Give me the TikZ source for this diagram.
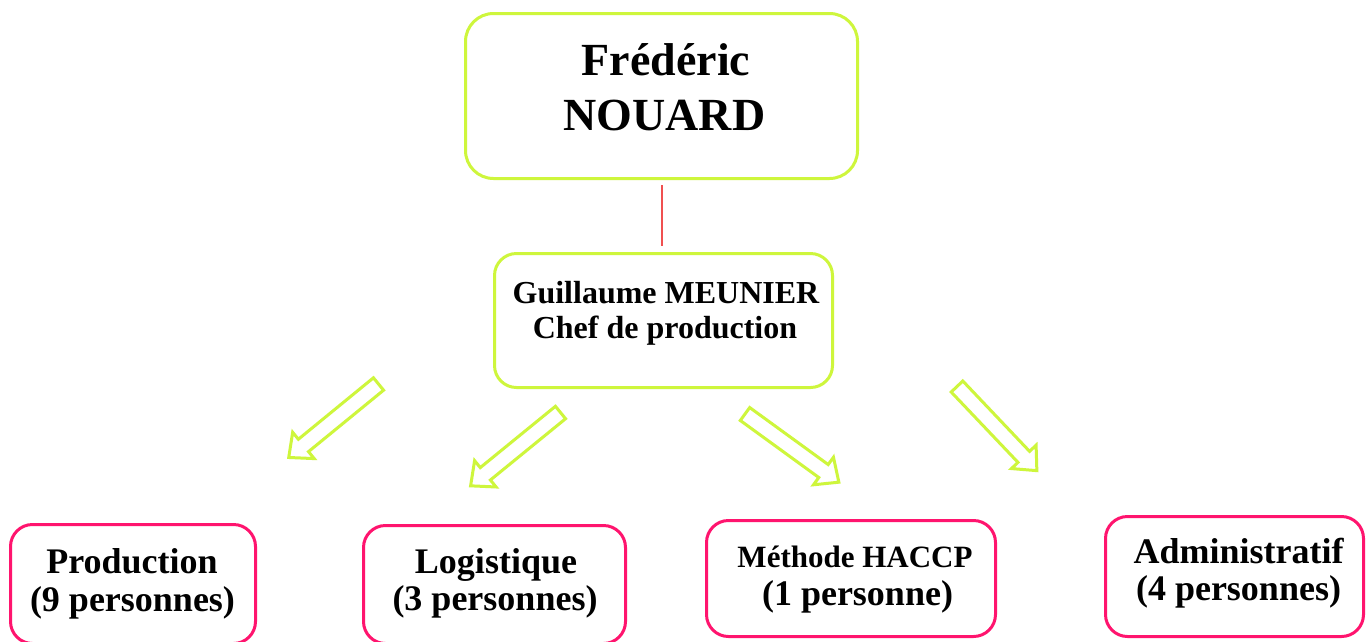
\documentclass[tikz,border=0pt]{standalone}
\usepackage{fontspec}
\setmainfont{Liberation Serif}
\definecolor{limeg}{RGB}{206,246,60}
\definecolor{pinkb}{RGB}{255,20,110}
\definecolor{redl}{RGB}{240,80,80}
\begin{document}
\begin{tikzpicture}[x=1pt,y=-1pt,
  limebox/.style={draw=limeg, line width=3pt, fill=white, inner sep=0pt},
  pinkbox/.style={draw=pinkb, line width=3pt, fill=white, inner sep=0pt, rounded corners=22pt},
  txt/.style={inner sep=0pt, anchor=base, font=\bfseries\fontsize{#1}{#1}\selectfont},
  redline/.style={draw=redl, line width=2pt},
  arrowline/.style={draw=limeg, line width=3pt, fill=white, line join=miter},
  blockarrow/.pic={\draw[arrowline] (0,-8) -- (97,-8) -- (97,-17) -- (116,0) -- (97,17) -- (97,8) -- (0,8) -- cycle;}
]
\clip (0,0) rectangle (1370,641);
\fill[white] (0,0) rectangle (1370,641);

% top box
\node[limebox, rounded corners=28pt, minimum width=392pt, minimum height=165pt] (top) at (661.5,96) {};
\node[txt=46] (topa) at (666,75) {Frédéric};
\node[txt=46] (topb) at (664.5,130) {NOUARD};

% middle box
\node[limebox, rounded corners=22pt, minimum width=338pt, minimum height=134pt] (mid) at (663.5,320.5) {};
\node[txt=32] (mida) at (666,303) {Guillaume MEUNIER};
\node[txt=32] (midb) at (665,338) {Chef de production};

\draw[redline, shorten <=5pt, shorten >=6pt] (top.south) -- (top.south |- mid.north);

% arrows
\pic[rotate=219.3] at (378.5,384) {blockarrow};
\pic[rotate=219.2] at (560.5,412.5) {blockarrow};
\pic[rotate=-36] at (745,414) {blockarrow};
\pic[rotate=-46.5] at (957,386.5) {blockarrow};

% bottom boxes
\node[pinkbox, minimum width=245pt, minimum height=119pt] (b1) at (133,584) {};
\node[txt=36] (b1a) at (132,573) {Production};
\node[txt=36] (b1b) at (132.5,611) {(9 personnes)};

\node[pinkbox, minimum width=262pt, minimum height=118pt] (b2) at (494.5,584.5) {};
\node[txt=36] (b2a) at (496,573) {Logistique};
\node[txt=36] (b2b) at (495,610) {(3 personnes)};

\node[pinkbox, minimum width=289pt, minimum height=116pt] (b3) at (851,578.5) {};
\node[txt=31] (b3a) at (855,567) {Méthode HACCP};
\node[txt=36] (b3b) at (857.5,605) {(1 personne)};

\node[pinkbox, minimum width=258pt, minimum height=120pt] (b4) at (1234.5,576.5) {};
\node[txt=36] (b4a) at (1238.5,563) {Administratif};
\node[txt=36] (b4b) at (1238.5,600) {(4 personnes)};
\end{tikzpicture}
\end{document}
